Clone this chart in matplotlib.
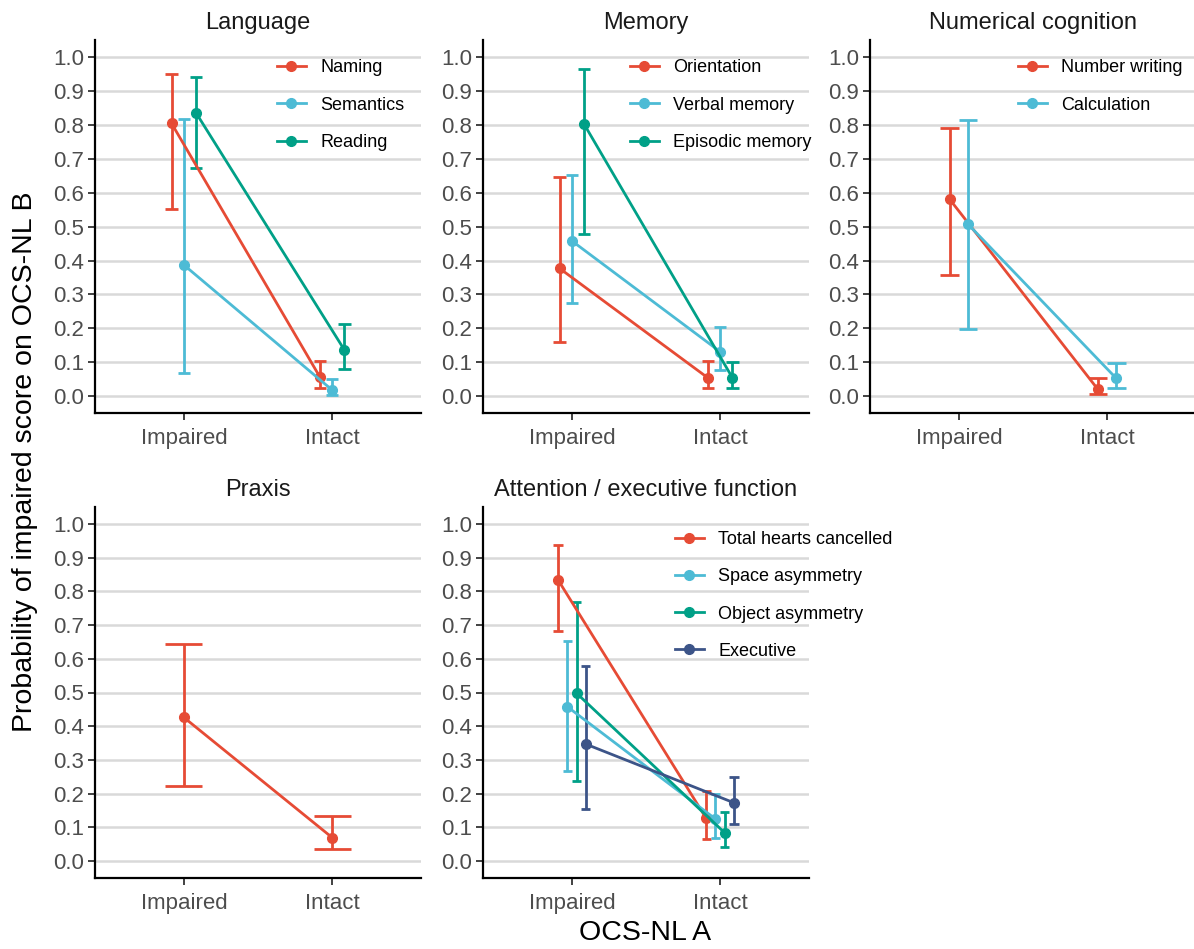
import numpy as np
import matplotlib.pyplot as plt

plt.rcParams['font.family'] = ['Liberation Sans', 'DejaVu Sans']

# ggsci npg palette
NPG = ['#E64B35', '#4DBBD5', '#00A087', '#3C5488']
levels = ['Impaired', 'Intact']

# each row: [Impaired, Intact]
lang_tests = ['Naming', 'Semantics', 'Reading']
lang_est = [[0.805, 0.057], [0.387, 0.018], [0.835, 0.136]]
lang_lo = [[0.552, 0.025], [0.069, 0.004], [0.672, 0.079]]
lang_hi = [[0.950, 0.104], [0.817, 0.049], [0.941, 0.213]]

mem_tests = ['Orientation', 'Verbal memory', 'Episodic memory']
mem_est = [[0.377, 0.054], [0.458, 0.131], [0.802, 0.054]]
mem_lo = [[0.160, 0.023], [0.274, 0.077], [0.477, 0.023]]
mem_hi = [[0.646, 0.104], [0.652, 0.205], [0.966, 0.101]]

num_tests = ['Number writing', 'Calculation']
num_est = [[0.581, 0.020], [0.507, 0.052]]
num_lo = [[0.356, 0.006], [0.197, 0.025]]
num_hi = [[0.792, 0.054], [0.815, 0.099]]

prax_tests = ['Praxis']
prax_est = [[0.426, 0.070]]
prax_lo = [[0.223, 0.035]]
prax_hi = [[0.644, 0.134]]

att_tests = ['Total hearts cancelled', 'Space asymmetry', 'Object asymmetry', 'Executive']
att_est = [[0.834, 0.127], [0.458, 0.125], [0.498, 0.084], [0.347, 0.173]]
att_lo = [[0.683, 0.067], [0.268, 0.070], [0.238, 0.042], [0.155, 0.110]]
att_hi = [[0.938, 0.208], [0.653, 0.198], [0.767, 0.146], [0.579, 0.250]]

W, H = 1194, 949
fig = plt.figure(figsize=(W / 100, H / 100), dpi=100)


def px_axes(left, top, width, height):
    return fig.add_axes([left / W, 1 - (top + height) / H, width / W, height / H])


def draw_panel(ax, title, tests, est, lo, hi, legend_at=None):
    n = len(tests)
    dodge = 0.25
    x = np.arange(1, len(levels) + 1)
    for i, name in enumerate(tests):
        off = (i - (n - 1) / 2) * dodge / n
        xs = x + off
        col = NPG[i]
        half = dodge / n / 2
        ax.vlines(xs, lo[i], hi[i], color=col, lw=2, zorder=3)
        ax.hlines(lo[i], xs - half, xs + half, color=col, lw=2, zorder=3)
        ax.hlines(hi[i], xs - half, xs + half, color=col, lw=2, zorder=3)
        ax.plot(xs, est[i], color=col, lw=2, marker='o', ms=7, label=name, zorder=4)

    ax.set_xlim(0.4, 2.6)
    ax.set_ylim(-0.05, 1.05)
    ax.set_xticks(x)
    ax.set_xticklabels(levels)
    yt = np.arange(0, 11) / 10
    ax.set_yticks(yt)
    ax.set_yticklabels([f'{v:.1f}' for v in yt])
    ax.tick_params(labelsize=16, labelcolor='#4D4D4D', color='#333333',
                   length=5, width=1.3, pad=3)
    ax.tick_params(axis='x', pad=6)
    ax.yaxis.grid(True, color='#D9D9D9', lw=1.8)
    ax.set_axisbelow(True)
    for s in ['top', 'right']:
        ax.spines[s].set_visible(False)
    for s in ['left', 'bottom']:
        ax.spines[s].set_linewidth(1.6)
        ax.spines[s].set_color('black')
    ax.set_title(title, fontsize=17, color='#1A1A1A', pad=8)

    if legend_at is not None:
        ax.legend(loc='upper left', bbox_to_anchor=legend_at, frameon=False,
                  fontsize=13, handlelength=1.6, handletextpad=0.8,
                  labelspacing=1.12, borderpad=0, borderaxespad=0)


ax1 = px_axes(95, 40.4, 326, 372.6)
ax2 = px_axes(483, 40.4, 326, 372.6)
ax3 = px_axes(870, 40.4, 326, 372.6)
ax4 = px_axes(95, 507, 326, 371)
ax5 = px_axes(483, 507, 326, 371)

draw_panel(ax1, 'Language', lang_tests, lang_est, lang_lo, lang_hi, (0.558, 0.949))
draw_panel(ax2, 'Memory', mem_tests, mem_est, mem_lo, mem_hi, (0.451, 0.949))
draw_panel(ax3, 'Numerical cognition', num_tests, num_est, num_lo, num_hi, (0.454, 0.949))
draw_panel(ax4, 'Praxis', prax_tests, prax_est, prax_lo, prax_hi)
draw_panel(ax5, 'Attention / executive function', att_tests, att_est, att_lo, att_hi, (0.589, 0.935))

fig.text(645.5 / W, 1 - 933 / H, 'OCS-NL A', ha='center', va='center', fontsize=20.5)
fig.text(25 / W, 1 - 462 / H, 'Probability of impaired score on OCS-NL B',
         ha='center', va='center', rotation=90, fontsize=20.5)

fig.savefig('out.png', dpi=100)
